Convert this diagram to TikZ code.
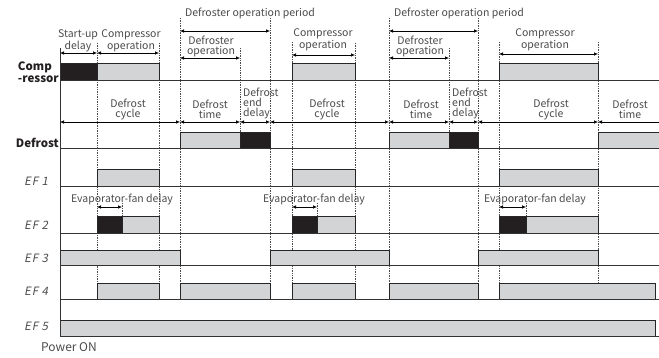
\documentclass[tikz,border=0pt]{standalone}
\usepackage{fontspec}
\setmainfont{Noto Sans CJK SC}
\newfontfamily\effont[FakeSlant=0.2,LetterSpace=8]{Noto Sans CJK SC}
\usetikzlibrary{arrows.meta}
\definecolor{boxgray}{RGB}{211,212,213}
\definecolor{boxblack}{RGB}{35,31,32}
\definecolor{txtgray}{RGB}{75,75,75}
\tikzset{
  lbl/.style={font=\fontsize{10.5}{10}\selectfont, text=txtgray, align=center, inner sep=0pt},
  rowlbl/.style={font=\fontsize{11.5}{11.5}\selectfont\bfseries, text=boxblack, align=left, inner sep=0pt, anchor=east},
  eflbl/.style={font=\effont\fontsize{11.5}{11}\selectfont, text=txtgray, inner sep=0pt, anchor=west},
  gbox/.style={draw=black!85, fill=boxgray, line width=0.8pt},
  bbox/.style={draw=black!85, fill=boxblack, line width=0.8pt},
  baseln/.style={draw=black!80, line width=0.7pt},
  vline/.style={draw=black!70, densely dotted, line width=0.7pt},
  dim/.style={draw=black, line width=0.6pt, {Latex[length=4pt,width=3.5pt]}-{Latex[length=4pt,width=3.5pt]}},
  diml/.style={draw=black, line width=0.6pt, {Latex[length=4pt,width=3.5pt]}-}
}
\begin{document}
\begin{tikzpicture}[x=1pt,y=-1pt]
\useasboundingbox (0,0) rectangle (659,358);
% vertical dotted guides
\foreach \xx/\ya/\yb in {97/43/283,159/43/283,180/18/283,240/48/132,270/18/283,292/42/283,355/43/283,389/18/283,449/48/132,478/18/283,499/42/283,598/42/283,122/203/216,317/203/216,526/203/216}
  \draw[vline] (\xx,\ya) -- (\xx,\yb);
% boxes: Comp
\draw[bbox] (60,63) rectangle (97,80);
\draw[gbox] (97,63) rectangle (159,80);
\draw[gbox] (292,63) rectangle (355,80);
\draw[gbox] (499,63) rectangle (598,80);
% Defrost
\draw[gbox] (180,132) rectangle (240,148);
\draw[bbox] (240,132) rectangle (270,148);
\draw[gbox] (389,132) rectangle (449,148);
\draw[bbox] (449,132) rectangle (478,148);
\draw[gbox] (598,148) -- (598,132) -- (660,132) -- (660,148);
% EF1
\draw[gbox] (97,169) rectangle (159,186);
\draw[gbox] (292,169) rectangle (355,186);
\draw[gbox] (499,169) rectangle (598,186);
% EF2
\draw[bbox] (97,216) rectangle (122,233);
\draw[gbox] (122,216) rectangle (159,233);
\draw[bbox] (292,216) rectangle (317,233);
\draw[gbox] (317,216) rectangle (355,233);
\draw[bbox] (499,216) rectangle (526,233);
\draw[gbox] (526,216) rectangle (598,233);
% EF3
\draw[gbox] (60,250) rectangle (180,265);
\draw[gbox] (270,250) rectangle (389,265);
\draw[gbox] (478,250) rectangle (598,265);
% EF4
\draw[gbox] (97,283) rectangle (159,299);
\draw[gbox] (180,283) rectangle (270,299);
\draw[gbox] (292,283) rectangle (355,299);
\draw[gbox] (389,283) rectangle (478,299);
\draw[gbox] (499,283) rectangle (655,299);
% EF5
\draw[gbox] (60,320) rectangle (655,336);
% baselines
\foreach \yy in {80,148,186,233,265,299,336}
  \draw[baseln] (60,\yy) -- (659,\yy);
\draw[baseln] (60,48) -- (60,336);
% top dimension arrows
\draw[dim] (60,53) -- (97,53);
\draw[dim] (97,53) -- (159,53);
\draw[dim] (180,31) -- (270,31);
\draw[dim] (180,58) -- (240,58);
\draw[dim] (292,55) -- (355,55);
\draw[dim] (389,31) -- (478,31);
\draw[dim] (389,58) -- (449,58);
\draw[dim] (499,54) -- (598,54);
% second row arrows
\foreach \xa/\xb in {60/180,180/240,240/270,270/389,389/449,449/478,478/598}
  \draw[dim] (\xa,122) -- (\xb,122);
\draw[diml] (598,122) -- (659,122);
% evaporator fan delay arrows
\draw[dim] (97,207) -- (122,207);
\draw[dim] (292,207) -- (317,207);
\draw[dim] (499,207) -- (526,207);
% texts
\node[lbl] (t1) at (78,41) {Start-up\\delay};
\node[lbl] (t2) at (131,41) {Compressor\\operation};
\node[lbl] (t3) at (250,13) {Defroster operation period};
\node[lbl] (t4) at (211,46) {Defroster\\operation};
\node[lbl] (t5) at (323,40) {Compressor\\operation};
\node[lbl] (t6) at (459,13) {Defroster operation period};
\node[lbl] (t7) at (420,46) {Defroster\\operation};
\node[lbl] (t8) at (545,40) {Compressor\\operation};
\node[lbl] (c1) at (128,109) {Defrost\\cycle};
\node[lbl] (c2) at (210,109) {Defrost\\time};
\node[lbl,align=left,anchor=west] (c3) at (243,103) {Defrost\\end\\delay};
\node[lbl] (c4) at (327,109) {Defrost\\cycle};
\node[lbl] (c5) at (421,109) {Defrost\\time};
\node[lbl,align=left,anchor=west] (c6) at (452,103) {Defrost\\end\\delay};
\node[lbl] (c7) at (551,109) {Defrost\\cycle};
\node[lbl] (c8) at (630,109) {Defrost\\time};
\node[lbl] (e1) at (122,199) {Evaporator-fan delay};
\node[lbl] (e2) at (314,199) {Evaporator-fan delay};
\node[lbl] (e3) at (535,199) {Evaporator-fan delay};
\node[rowlbl] (r1) at (59,72) {Comp\\-ressor};
\node[rowlbl] (r2) at (59,143) {Defrost};
\node[eflbl] (f1) at (24,181) {EF 1};
\node[eflbl] (f2) at (24,225) {EF 2};
\node[eflbl] (f3) at (24,258) {EF 3};
\node[eflbl] (f4) at (24,291) {EF 4};
\node[eflbl] (f5) at (24,326) {EF 5};
\node[lbl,font=\fontsize{12}{12}\selectfont] (p) at (69,347) {Power ON};
\end{tikzpicture}
\end{document}
